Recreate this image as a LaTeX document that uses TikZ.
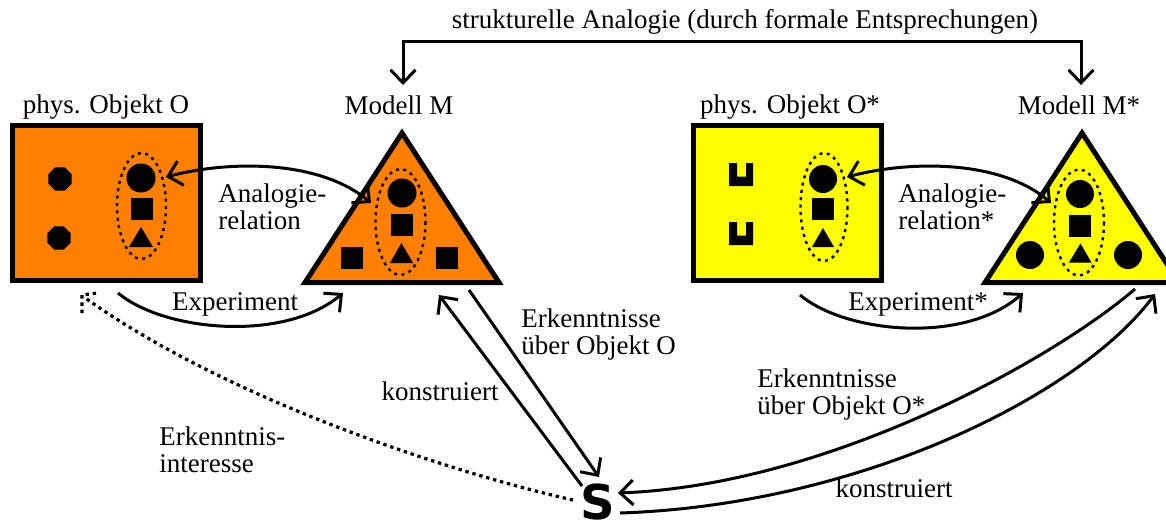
\documentclass[tikz,border=0pt]{standalone}
\usepackage{fontspec}
\setmainfont{Liberation Serif}
\newfontfamily\sboldfont{DejaVu Sans}
\usetikzlibrary{arrows.meta,shapes.geometric,calc}
\definecolor{orng}{RGB}{255,128,0}
\definecolor{yel}{RGB}{255,255,0}
\tikzset{
  lbl/.style={font=\fontsize{13.5}{13.8}\selectfont, inner sep=0pt},
  obj/.style={draw=black, line width=2.5pt},
  conn/.style={line width=1.5pt, -{Straight Barb[length=6.5pt,width=12.5pt]}},
  biconn/.style={line width=1.5pt, {Straight Barb[length=6.5pt,width=12.5pt]}-{Straight Barb[length=6.5pt,width=12.5pt]}},
  dotell/.style={line width=1.2pt, dash pattern=on 1.5pt off 2.2pt},
  dotconn/.style={line width=1.6pt, dash pattern=on 1.7pt off 1.9pt},
  sqr/.style={fill=black, rectangle, inner sep=0pt, minimum size=11pt},
  dotc/.style={fill=black, circle, inner sep=0pt, minimum size=14.5pt},
  octo/.style={fill=black, regular polygon, regular polygon sides=8, inner sep=0pt, minimum size=12.5pt},
}
\begin{document}
\begin{tikzpicture}[x=0.5pt,y=-0.5pt]
\useasboundingbox (0,0) rectangle (1166,521);
\clip (0,0) rectangle (1166,521);

% ---------- labels ----------
\node[lbl, anchor=base] (top) at (745,28) {strukturelle Analogie (durch formale Entsprechungen)};
\node[lbl, anchor=base] (labO) at (106,113) {phys. Objekt O};
\node[lbl, anchor=base] (labM) at (399,114) {Modell M};
\node[lbl, anchor=base] (labOs) at (790,113) {phys. Objekt O*};
\node[lbl, anchor=base] (labMs) at (1079,114) {Modell M*};

% ---------- object O ----------
\node[obj, fill=orng, rectangle, minimum width=94pt, minimum height=77.5pt, inner sep=0pt] (O) at (106.5,203) {};
\node[octo] (o1) at (60,179) {};
\node[octo] (o2) at (59,238) {};
\draw[dotell] (141.5,206) ellipse [x radius=24.5, y radius=53];
\node[dotc] (cO) at (141,178) {};
\node[sqr] (sO) at (141.5,209) {};
\fill (141,227) -- (153,247) -- (129,247) -- cycle;

% ---------- model M ----------
\draw[obj, fill=orng] (402,133) -- (499,282.5) -- (305,282.5) -- cycle;
\draw[dotell] (400.5,222) ellipse [x radius=25, y radius=53];
\node[dotc] (cM) at (402,193) {};
\node[sqr] (sM) at (401.5,225) {};
\fill (401.5,243) -- (413,263) -- (390,263) -- cycle;
\node[sqr] (sMl) at (351.5,257.5) {};
\node[sqr] (sMr) at (446.5,257.5) {};

% ---------- object O* ----------
\node[obj, fill=yel, rectangle, minimum width=94pt, minimum height=77.5pt, inner sep=0pt] (Os) at (787,203) {};
\fill (729,163) -- (737,163) -- (737,176.5) -- (746,176.5) -- (746,163) -- (753,163) -- (753,186) -- (729,186) -- cycle;
\fill (729,222) -- (737,222) -- (737,235.5) -- (746,235.5) -- (746,222) -- (753,222) -- (753,245) -- (729,245) -- cycle;
\draw[dotell] (824,207) ellipse [x radius=23.5, y radius=54];
\node[dotc, minimum size=14pt] (cOs) at (823,179) {};
\node[sqr] (sOs) at (823,209) {};
\fill (823,228) -- (834,247) -- (812,247) -- cycle;

% ---------- model M* ----------
\draw[obj, fill=yel] (1082,133) -- (1179,282.5) -- (985,282.5) -- cycle;
\draw[dotell] (1079,222.5) ellipse [x radius=25, y radius=53];
\node[dotc, minimum size=14pt] (cMs) at (1080,194) {};
\node[sqr] (sMs) at (1080,225.5) {};
\fill (1080.5,243.5) -- (1091.5,262.5) -- (1069,262.5) -- cycle;
\node[dotc, minimum size=14pt] (cMl) at (1030,255) {};
\node[dotc, minimum size=14pt] (cMr) at (1128,255) {};

% ---------- subject ----------
\node[font=\sboldfont\bfseries\fontsize{24}{24}\selectfont, anchor=base, inner sep=0pt] (S) at (597.5,519) {S};

% ---------- connector end points ----------
\coordinate (bL) at (403,85);
\coordinate (bR) at (1081,85);
\coordinate (aL1) at (166,177);
\coordinate (aR1) at (371,203);
\coordinate (aL2) at (847,177);
\coordinate (aR2) at (1051,203);
\coordinate (e1s) at (118,293);
\coordinate (e1t) at (343,293);
\coordinate (e2s) at (800,295);
\coordinate (e2t) at (1023,293);
\coordinate (k1s) at (582,486);
\coordinate (k1t) at (439,295);
\coordinate (r1s) at (469,290);
\coordinate (r1t) at (599,477);
\coordinate (r2s) at (1135,289);
\coordinate (r2t) at (618,493);
\coordinate (k2s) at (620,513);
\coordinate (k2t) at (1155,294);
\coordinate (iS) at (573,500);
\coordinate (iT) at (84,297);
\coordinate (iTip) at (82,295);

% ---------- connectors ----------
\draw[biconn] (bL) -- ++(0,-44) -| (bR);
\draw[biconn] (aL1) .. controls (230,160) and (320,160) .. (aR1);
\draw[biconn] (aL2) .. controls (911,160) and (1001,160) .. (aR2);
\draw[conn] (e1s) .. controls (165,332) and (285,342) .. (e1t);
\draw[conn] (e2s) .. controls (847,334) and (965,344) .. (e2t);
\draw[conn] (k1s) -- (k1t);
\draw[conn] (r1s) -- (r1t);
\draw[conn] (r2s) .. controls (1055,358) and (830,485) .. (r2t);
\draw[conn] (k2s) .. controls (860,505) and (1080,395) .. (k2t);
\draw[dotconn] (iS) .. controls (440,470) and (220,395) .. (iT);
\draw[dotconn] ($(iTip)+(0,18)$) -- (iTip) -- ($(iTip)+(16,-2)$);

% ---------- connector labels ----------
\node[lbl, anchor=base west] (ana1) at (218,202) {\begin{tabular}[t]{@{}l@{}}Analogie-\\relation\end{tabular}};
\node[lbl, anchor=base west] (ana2) at (898,202) {\begin{tabular}[t]{@{}l@{}}Analogie-\\relation*\end{tabular}};
\node[lbl, anchor=base] (exp1) at (235,310) {Experiment};
\node[lbl, anchor=base] (exp2) at (918,310) {Experiment*};
\node[lbl, anchor=base west] (erk1) at (521,327) {\begin{tabular}[t]{@{}l@{}}Erkenntnisse\\über Objekt O\end{tabular}};
\node[lbl, anchor=base] (kon1) at (440,400) {konstruiert};
\node[lbl, anchor=base west] (int) at (159,445) {\begin{tabular}[t]{@{}l@{}}Erkenntnis-\\interesse\end{tabular}};
\node[lbl, anchor=base west] (erk2) at (757,387) {\begin{tabular}[t]{@{}l@{}}Erkenntnisse\\über Objekt O*\end{tabular}};
\node[lbl, anchor=base] (kon2) at (894,497) {konstruiert};
\end{tikzpicture}
\end{document}
